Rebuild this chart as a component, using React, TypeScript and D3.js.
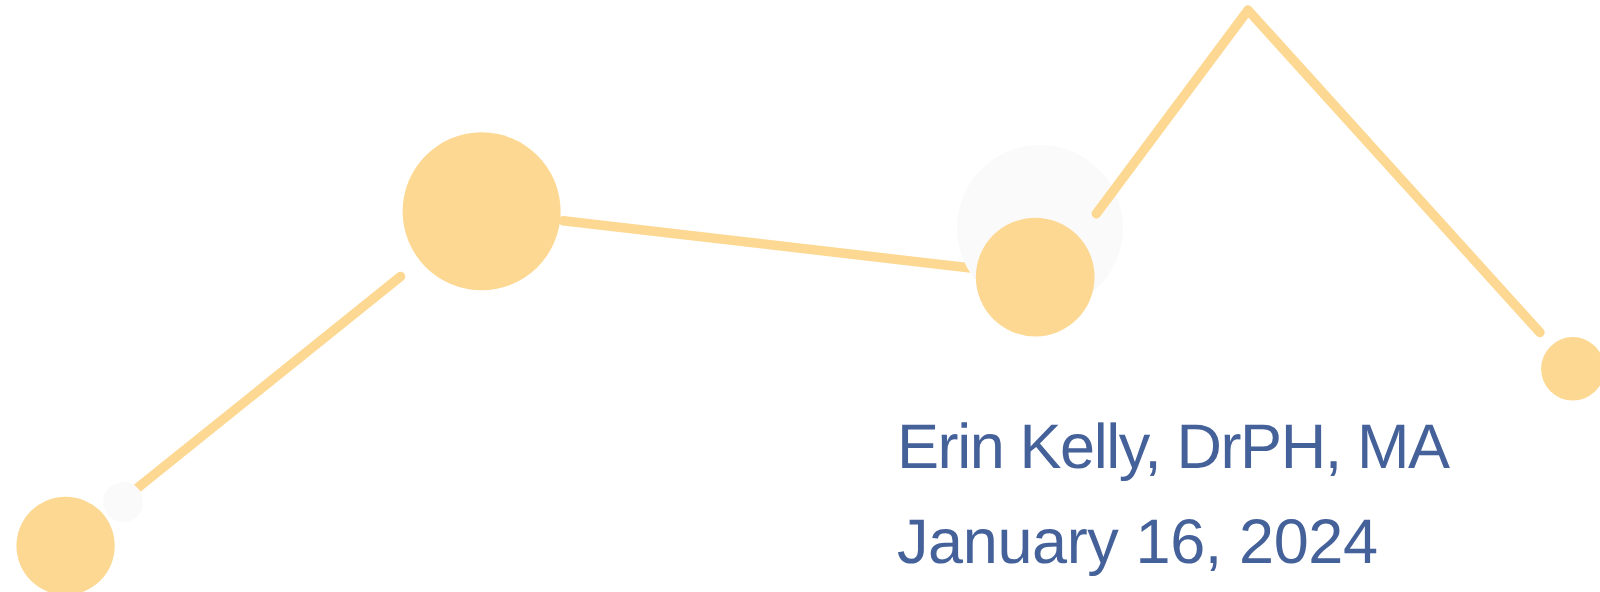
import React, { useEffect, useRef } from 'react';
import * as d3 from 'd3';

// decorative trend line: step position, level and bubble weight for each point
const steps = [0.41, 3.01, 6.47, 7.8, 9.83];
const levels = [0.78, 6.43, 5.32, 9.83, 3.77];
const weights = [24, 62, 35, 0, 10];

// faint highlight bubbles behind the markers
const haloSteps = [0.77, 6.5];
const haloLevels = [1.52, 6.15];
const haloWeights = [4, 68.4];

const subtitleLines = ['Erin Kelly, DrPH, MA', 'January 16, 2024'];
const subtitleWidths = [553, 481];

const WIDTH = 1600;
const HEIGHT = 592;

const App = () => {
  const svgRef = useRef(null);

  useEffect(() => {
    document.body.style.margin = '0';
    if (!svgRef.current) return;

    const svg = d3.select(svgRef.current);
    svg.selectAll('*').remove();

    const x = d3.scaleLinear().domain([0, 10]).range([0, WIDTH]);
    const y = d3.scaleLinear().domain([0, 10]).range([HEIGHT, 0]);
    const r = d3.scaleSqrt().domain([0, d3.max(weights)]).range([0, 79]);

    const pts = steps.map((s, i) => ({ x: x(s), y: y(levels[i]), r: r(weights[i]) }));

    // the line bends a little to the right of the third bubble's centre
    const nudgeX = [0, 0, 14, 0, 0];
    const verts = pts.map((p, i) => ({ x: p.x + nudgeX[i], y: p.y }));

    // how far each segment stops short of its endpoints (gaps around bubbles)
    const trims = [
      [83, 104],
      [82, 40],
      [79, 0],
      [0, 49],
    ];

    const color = '#fdd892';
    const strokeW = 9.5;

    const segs = d3.pairs(verts).map(([a, b], i) => {
      const dx = b.x - a.x;
      const dy = b.y - a.y;
      const len = Math.hypot(dx, dy);
      const ux = dx / len;
      const uy = dy / len;
      return {
        x1: a.x + ux * trims[i][0],
        y1: a.y + uy * trims[i][0],
        x2: b.x - ux * trims[i][1],
        y2: b.y - uy * trims[i][1],
      };
    });

    const line = d3.line();

    const drawPath = (p) => {
      svg.append('path')
        .attr('d', line(p))
        .attr('stroke', color)
        .attr('stroke-width', strokeW)
        .attr('stroke-linecap', 'round')
        .attr('stroke-linejoin', 'round')
        .attr('fill', 'none');
    };

    // first two segments sit underneath the halos
    segs.slice(0, 2).forEach((s) => drawPath([[s.x1, s.y1], [s.x2, s.y2]]));

    haloSteps.forEach((s, i) => {
      svg.append('circle')
        .attr('cx', x(s))
        .attr('cy', y(haloLevels[i]))
        .attr('r', r(haloWeights[i]))
        .attr('fill', '#fafafa');
    });

    // peak segments, joined with a round corner
    drawPath([[segs[2].x1, segs[2].y1], [verts[3].x, verts[3].y], [segs[3].x2, segs[3].y2]]);

    svg.selectAll('circle.marker')
      .data(pts.filter((p) => p.r > 0))
      .enter()
      .append('circle')
      .attr('class', 'marker')
      .attr('cx', (d) => d.x)
      .attr('cy', (d) => d.y)
      .attr('r', (d) => d.r)
      .attr('fill', color);

    svg.selectAll('text.sub')
      .data(subtitleLines)
      .enter()
      .append('text')
      .attr('class', 'sub')
      .attr('x', 897)
      .attr('y', (d, i) => 468 + i * 95)
      .attr('textLength', (d, i) => subtitleWidths[i])
      .attr('lengthAdjust', 'spacing')
      .style('font-family', '"Liberation Sans", Arial, sans-serif')
      .style('font-size', '63px')
      .style('text-rendering', 'geometricPrecision')
      .style('fill', '#45619a')
      .text((d) => d);
  }, []);

  return (
    <svg
      ref={svgRef}
      width={WIDTH}
      height={HEIGHT}
      style={{ display: 'block', background: '#ffffff' }}
    />
  );
};

export default App;
